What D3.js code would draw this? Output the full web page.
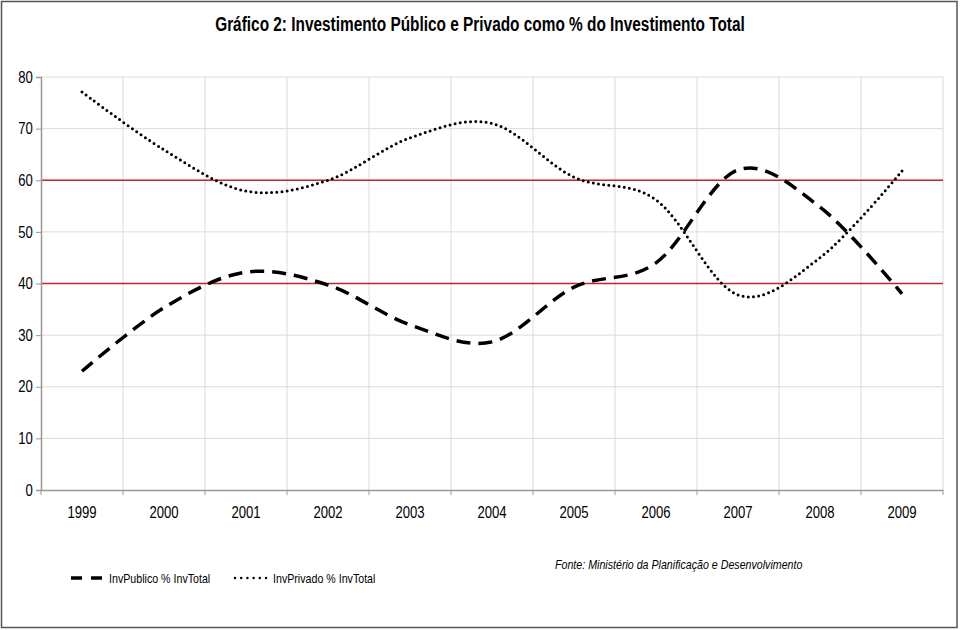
<!DOCTYPE html>
<html><head><meta charset="utf-8">
<script src="https://cdn.jsdelivr.net/npm/d3@7"></script>
<style>
body{margin:0;background:#fff;}
text{font-family:"Liberation Sans Narrow","Arial Narrow","Liberation Sans",Arial,sans-serif;}
</style></head>
<body><svg id="c" width="960" height="630"></svg>
<script>
const years = ["1999","2000","2001","2002","2003","2004","2005","2006","2007","2008","2009"];
const invPublico = [23, 35.3, 42.2, 39.7, 32, 28.7, 39.3, 44, 62, 54.8, 38];
const invPrivado = [77.1, 65.9, 57.9, 60, 68.2, 71, 60.6, 56.2, 37.8, 45, 61.8];
const yTicks = [0,10,20,30,40,50,60,70,80];
const refLines = [40, 60];
const seriesNames = ["InvPublico % InvTotal", "InvPrivado % InvTotal"];
const title = "Gráfico 2: Investimento Público e Privado como % do Investimento Total";
const source = "Fonte: Ministério da Planificação e Desenvolvimento";

const SX = 0.82; // horizontal condensing to mimic a narrow typeface
const svg = d3.select("#c");
svg.append("rect").attr("x",1.5).attr("y",1.5).attr("width",955.5).attr("height",626)
  .attr("fill","#fff").attr("stroke","#555").attr("stroke-width",1.5);

const L=41, R=943, T=77, B=490;
const x = d3.scaleBand().domain(years).range([L,R]);
const y = d3.scaleLinear().domain([0,80]).range([B,T]);

function ntext(sel, px, py, s, anchor){
  return sel.append("text").attr("transform",`translate(${px},${py}) scale(${s},1)`)
    .attr("text-anchor",anchor||"start");
}

ntext(svg,480,30.5,0.77,"middle").attr("font-size",20).attr("font-weight","bold")
  .attr("fill","#000").text(title);

// gridlines
const g = svg.append("g");
g.selectAll(".hg").data(yTicks.filter(d=>d>0)).join("line")
  .attr("x1",L).attr("x2",R).attr("y1",d=>y(d)).attr("y2",d=>y(d))
  .attr("stroke","#dcdcdc").attr("stroke-width",1);
const bounds = years.map(d=>x(d)).concat([R]);
g.selectAll(".vg").data(bounds.slice(1)).join("line")
  .attr("x1",d=>d).attr("x2",d=>d).attr("y1",T).attr("y2",B)
  .attr("stroke","#dcdcdc").attr("stroke-width",1);

// ref lines
g.selectAll(".rl").data(refLines).join("line")
  .attr("x1",L).attr("x2",R).attr("y1",d=>y(d)).attr("y2",d=>y(d))
  .attr("stroke","#c0272d").attr("stroke-width",1.3);

// axes
const yAxis = svg.append("g").attr("transform",`translate(${L},0)`)
  .call(d3.axisLeft(y).tickValues(yTicks).tickSize(5).tickPadding(4));
const xAxis = svg.append("g").attr("transform",`translate(0,${B})`)
  .call(d3.axisBottom(x).tickSize(0).tickPadding(17));
[yAxis,xAxis].forEach(a=>{
  a.select(".domain").attr("stroke","#999").attr("stroke-width",1.5);
  a.selectAll(".tick line").attr("stroke","#999");
  a.selectAll("text").attr("font-size",16).attr("fill","#000");
});
yAxis.selectAll(".tick text").attr("x",-10).attr("transform",`scale(${SX},1)`);
xAxis.selectAll(".tick text").attr("transform",`scale(${SX},1)`);
xAxis.selectAll(".btick").data(bounds).join("line")
  .attr("x1",d=>d).attr("x2",d=>d).attr("y1",0).attr("y2",5).attr("stroke","#999");

// lines
const line = d3.line().x((d,i)=>x(years[i])+x.bandwidth()/2).y(d=>y(d))
  .curve(d3.curveCatmullRom.alpha(0));
svg.append("path").datum(invPublico).attr("d",line).attr("fill","none")
  .attr("stroke","#000").attr("stroke-width",3.5).attr("stroke-dasharray","14 8");
svg.append("path").datum(invPrivado).attr("d",line).attr("fill","none")
  .attr("stroke","#000").attr("stroke-width",3).attr("stroke-linecap","round")
  .attr("stroke-dasharray","0 5.2");

// legend
const lg = svg.append("g");
lg.append("line").attr("x1",71).attr("x2",102).attr("y1",578).attr("y2",578)
  .attr("stroke","#000").attr("stroke-width",3.5).attr("stroke-dasharray","11 9");
ntext(lg,109,583,SX).attr("font-size",13).text(seriesNames[0]);
lg.append("line").attr("x1",235).attr("x2",266).attr("y1",578).attr("y2",578)
  .attr("stroke","#000").attr("stroke-width",2.5).attr("stroke-linecap","round").attr("stroke-dasharray","0 6.2");
ntext(lg,273,583,SX).attr("font-size",13).text(seriesNames[1]);

ntext(svg,555,568.5,SX).attr("font-size",13).attr("font-style","italic").text(source);
</script></body></html>
